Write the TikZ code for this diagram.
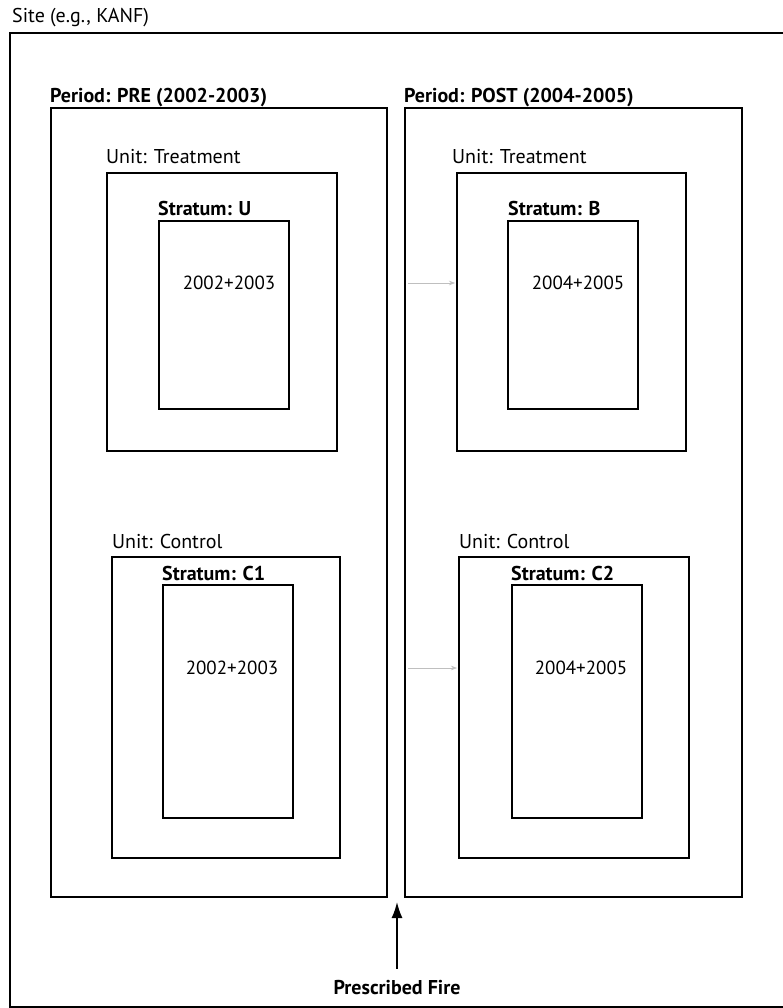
\documentclass[tikz,border=0pt]{standalone}
\usepackage{fontspec}
\setmainfont{PT Sans}
\usetikzlibrary{arrows.meta}
\begin{document}
\begin{tikzpicture}[x=1pt,y=-1pt,
  box/.style={draw, line width=1.8pt, inner sep=0pt, outer sep=0pt, anchor=north west},
  lab/.style={anchor=base west, inner sep=0pt, font=\fontsize{20}{22}\selectfont},
  blab/.style={anchor=base west, inner sep=0pt, font=\fontsize{20}{22}\selectfont\bfseries},
  yr/.style={inner sep=0pt, font=\fontsize{19}{22}\selectfont},
  shiftarrow/.style={gray!50, line width=0.7pt, -{Stealth[length=6pt,width=4.5pt]}},
  firearrow/.style={line width=1.6pt, -{Latex[length=16pt,width=11pt]}}
]
\useasboundingbox (0,0) rectangle (782,1008);
\fill[white] (0,0) rectangle (782,1008);

% site frame (open to the right, cut by the page edge)
\draw[line width=1.8pt] (790,33) -- (10,33) -- (10,1007) -- (790,1007);
\node[lab] (site) at (12,23) {Site (e.g., KANF)};

% periods
\node[box, minimum width=336pt, minimum height=789pt] (pre) at (51,108) {};
\node[blab] (prelab) at (50,103) {Period: PRE (2002-2003)};
\node[box, minimum width=337pt, minimum height=789pt] (post) at (405,108) {};
\node[blab] (postlab) at (404,103) {Period: POST (2004-2005)};

% treatment units
\node[box, minimum width=230pt, minimum height=278pt] (unitTL) at (107,173) {};
\node[lab] (unitTLlab) at (106,164) {Unit: Treatment};
\node[box, minimum width=130pt, minimum height=188pt] (strU) at (159,221) {};
\node[blab] (strUlab) at (158,216) {Stratum: U};
\node[yr] (yrU) at (229,283) {2002+2003};

\node[box, minimum width=229pt, minimum height=278pt] (unitTR) at (457,173) {};
\node[lab] (unitTRlab) at (452,164) {Unit: Treatment};
\node[box, minimum width=130pt, minimum height=188pt] (strB) at (508,221) {};
\node[blab] (strBlab) at (508,216) {Stratum: B};
\node[yr] (yrB) at (578,283) {2004+2005};

% control units
\node[box, minimum width=228pt, minimum height=301pt] (unitCL) at (112,557) {};
\node[lab] (unitCLlab) at (112,548) {Unit: Control};
\node[box, minimum width=130pt, minimum height=233pt] (strC1) at (163,585) {};
\node[blab] (strC1lab) at (162,580) {Stratum: C1};
\node[yr] (yrC1) at (232,668) {2002+2003};

\node[box, minimum width=230pt, minimum height=301pt] (unitCR) at (459,557) {};
\node[lab] (unitCRlab) at (459,548) {Unit: Control};
\node[box, minimum width=130pt, minimum height=233pt] (strC2) at (512,585) {};
\node[blab] (strC2lab) at (511,580) {Stratum: C2};
\node[yr] (yrC2) at (581,668) {2004+2005};

% transition arrows
\coordinate (t1s) at (408,283);
\coordinate (t1e) at (455,283);
\draw[shiftarrow] (t1s) -- (t1e);
\coordinate (t2s) at (408,668);
\coordinate (t2e) at (457,668);
\draw[shiftarrow] (t2s) -- (t2e);

% prescribed fire
\node[blab, anchor=base] (fire) at (397,994) {Prescribed Fire};
\coordinate (firetip) at (397,902);
\draw[firearrow, shorten <=11pt] (fire.north) -- (firetip);
\end{tikzpicture}
\end{document}
